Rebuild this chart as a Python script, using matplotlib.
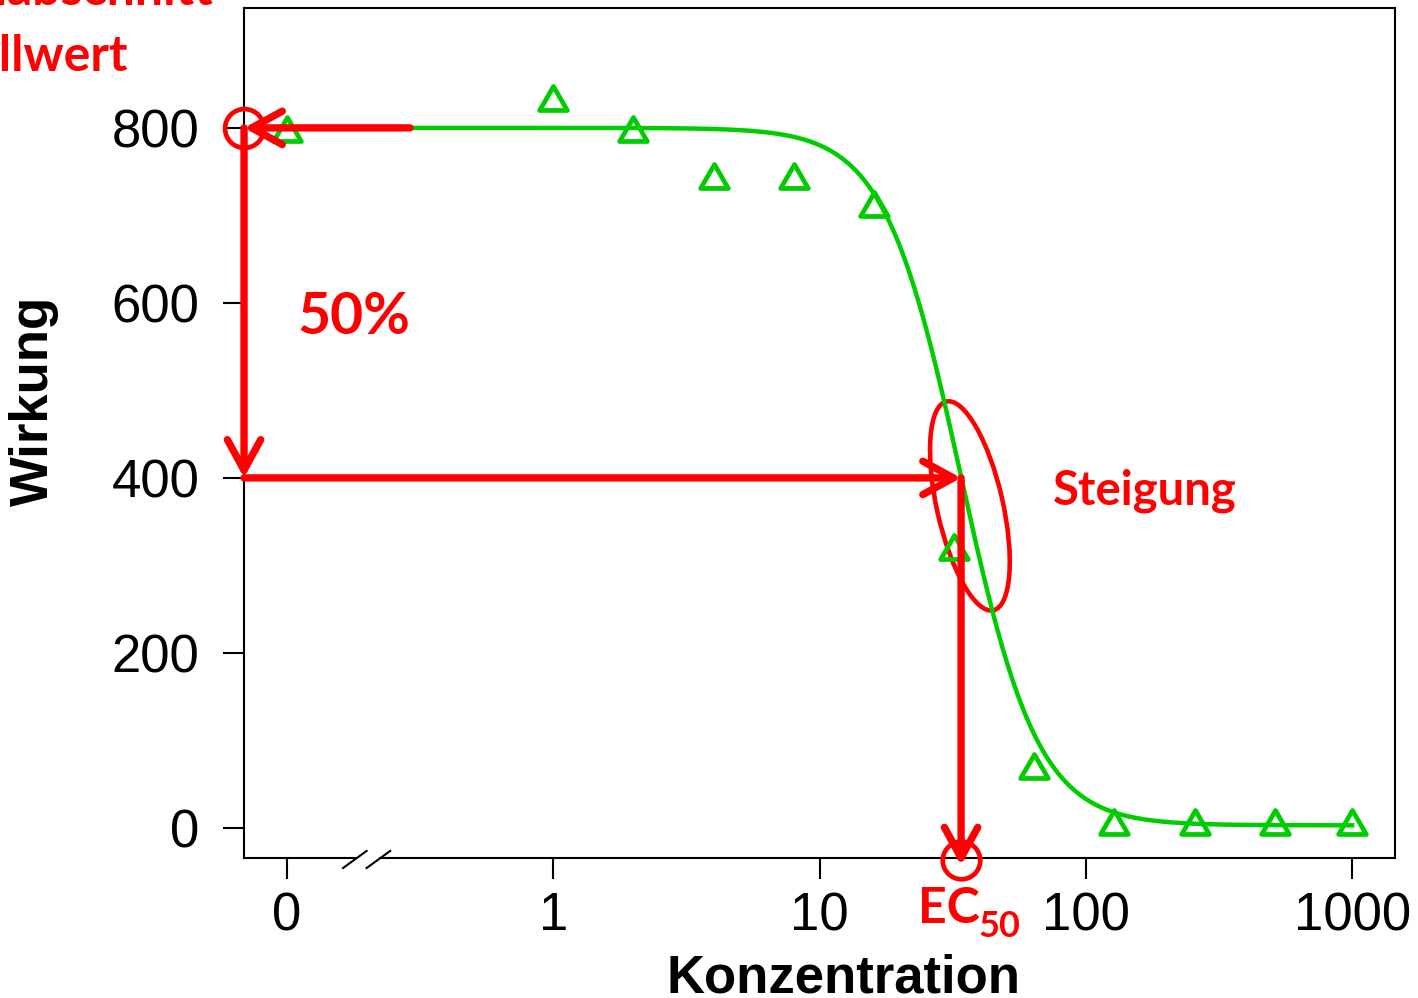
# ---- Dose-response curve (log-logistic) with EC50 annotation
import numpy as np
import matplotlib
matplotlib.use("Agg")
import matplotlib.pyplot as plt
from matplotlib.patches import Ellipse
from matplotlib.path import Path
from matplotlib.transforms import ScaledTranslation

plt.rcParams['font.family'] = ['Liberation Sans', 'DejaVu Sans']

# ---- Data
conc = [0, 1, 2, 4, 8, 16, 32, 64, 128, 256, 512, 1000]
effect = [794, 829, 794, 741, 741, 709, 317, 66, 2, 2, 2, 2]

# fitted 4-parameter log-logistic model
top = 800.
bottom = 3.
ec50 = 34.
slope = 3.

x_ticks = [0.1, 1, 10, 100, 1000]
x_ticklabels = ["0", "1", "10", "100", "1000"]
y_ticks = [0, 200, 400, 600, 800]

green = "#00CD00"
red = "#FF0000"
zero_pos = 0.1   # where dose 0 sits on the broken log axis

fig = plt.figure(figsize=(14.18, 9.98), dpi=100)
ax = fig.add_axes([0.1721, 0.1403, 0.8117, 0.8517])

xmin, xmax = 10**-1.161, 10**3.161
ax.set_xscale('log')
ax.set_xlim(xmin, xmax)
ax.set_ylim(-34.3, 937)

# ---- Fitted curve and observations
xc = np.logspace(np.log10(zero_pos), np.log10(1000), 400)
yc = bottom + (top - bottom) / (1 + (xc / ec50)**slope)
ax.plot(xc, yc, color=green, lw=3.2, zorder=2)

# open triangle (R pch=2 look), centred on its centroid
tri = Path([(-1, -0.577), (1, -0.577), (0, 1.155), (-1, -0.577)],
           [Path.MOVETO, Path.LINETO, Path.LINETO, Path.CLOSEPOLY])
xp = [zero_pos if c == 0 else c for c in conc]
ax.plot(xp, effect, linestyle='none', marker=tri, markersize=23,
        markerfacecolor='none', markeredgecolor=green, mew=3.4, zorder=3)

# ---- Axes styling, with a break on the x axis
ax.set_xticks(x_ticks)
ax.set_xticklabels(x_ticklabels)
ax.xaxis.set_minor_locator(matplotlib.ticker.NullLocator())
ax.set_yticks(y_ticks)
ax.tick_params(axis='both', labelsize=38, length=15, width=1.5)
ax.tick_params(axis='y', pad=17)
ax.tick_params(axis='x', pad=9)
for s in ['left', 'top', 'right']:
    ax.spines[s].set_linewidth(1.5)
ax.spines['bottom'].set_visible(False)

gap0, gap1 = 0.0964, 0.118
ax.plot([0, gap0], [0, 0], color='black', lw=1.5, transform=ax.transAxes, clip_on=False)
ax.plot([gap1, 1], [0, 0], color='black', lw=1.5, transform=ax.transAxes, clip_on=False)
for x0 in [0.086, 0.1065]:
    ax.plot([x0, x0 + 0.0205], [-0.0118, 0.0083], color='black', lw=1.5,
            transform=ax.transAxes, clip_on=False)

ax.text(0.521, -0.158, "Konzentration", transform=ax.transAxes, fontsize=38,
        fontweight='bold', ha='center', va='baseline')
ax.text(-0.170, 0.538, "Wirkung", transform=ax.transAxes, fontsize=38,
        fontweight='bold', rotation=90, rotation_mode='anchor',
        ha='center', va='baseline')

# ---- Red annotations
arrow = dict(arrowstyle='->,head_length=1.1,head_width=0.6', color=red, lw=5.3,
             shrinkA=0, shrinkB=0, mutation_scale=20, clip_on=False)
half = top / 2
ax.annotate('', xy=(xmin, top), xytext=(0.29, top), arrowprops=arrow,
            annotation_clip=False)
ax.annotate('', xy=(xmin, half), xytext=(xmin, top), arrowprops=arrow,
            annotation_clip=False)
ax.annotate('', xy=(ec50, half), xytext=(xmin, half), arrowprops=arrow,
            annotation_clip=False)
ax.annotate('', xy=(ec50, -43), xytext=(ec50, half), arrowprops=arrow,
            annotation_clip=False)

ax.plot([xmin], [top], marker='o', markersize=28, markerfacecolor='none',
        markeredgecolor=red, mew=3.4, clip_on=False, zorder=5)
ax.plot([ec50], [-37], marker='o', markersize=27, markerfacecolor='none',
        markeredgecolor=red, mew=3.4, clip_on=False, zorder=5)

ell_trans = fig.dpi_scale_trans + ScaledTranslation(36.7, 368, ax.transData)
ax.add_patch(Ellipse((0, 0), 0.66, 2.14, angle=12.7, fill=False,
                     edgecolor=red, lw=3.3, transform=ell_trans, clip_on=False))

ax.text(0.046, 0.617, "50%", transform=ax.transAxes, fontsize=41,
        family='Lato', fontweight='bold', color=red, va='baseline')
ax.text(0.703, 0.416, "Steigung", transform=ax.transAxes, fontsize=34,
        family='Lato', fontweight='bold', color=red, va='baseline')
ax.text(0.5856, -0.0767, "EC", transform=ax.transAxes, fontsize=36,
        family='Lato', fontweight='bold', color=red, va='baseline')
ax.text(0.6377, -0.0932, "50", transform=ax.transAxes, fontsize=26,
        family='Lato', fontweight='bold', color=red, va='baseline')

fig.text(0.1502, 0.995, "Achsenabschnitt", fontsize=36, family='Lato',
         fontweight='bold', color=red, ha='right', va='baseline')
fig.text(0.0896, 0.9289, "Kontrollwert", fontsize=36, family='Lato',
         fontweight='bold', color=red, ha='right', va='baseline')

fig.savefig("out.png", dpi=100)
